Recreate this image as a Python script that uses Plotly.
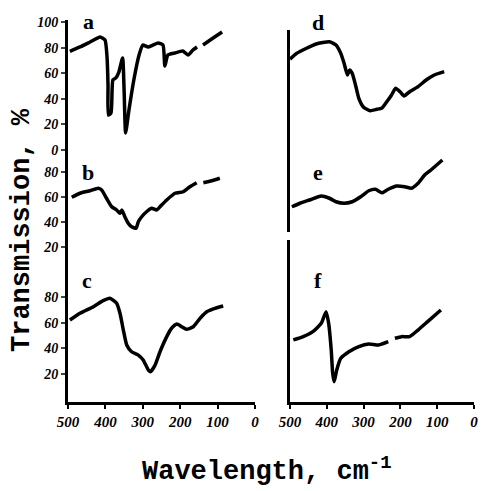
import plotly.graph_objects as go

# ---------------- data (wavenumber cm-1, transmission %) ----------------
a_x = [495, 468, 441, 414, 401, 396, 393, 392, 385, 380, 372, 364, 354, 350, 346, 337, 324, 310,
       300, 286, 273, 259, 246, 241, 233, 214, 193, 179, 166, 155, None, 139, 112, 88]
a_y = [77, 80.5, 84.4, 88.3, 85.9, 74.2, 50.8, 27.3, 28.9, 54.7, 56.3, 60.9, 71.9, 46.9, 13.3, 31.3,
       54.7, 74.2, 82.0, 80.5, 82.0, 83.6, 82.0, 65.6, 74.2, 75.8, 77.3, 74.2, 78.1, 80.5, None,
       82.0, 87.5, 92.2]

b_x = [490, 468, 441, 419, 410, 397, 383, 370, 361, 356, 348, 339, 330, 318, 312, 303, 290, 276,
       263, 254, 236, 214, 192, 174, 156, None, 138, 116, 94]
b_y = [59.8, 63.0, 65.0, 67.0, 65.6, 59.0, 52.2, 49.6, 47.0, 49.6, 44.2, 39.0, 36.2, 35.0, 40.2,
       44.2, 48.2, 51.0, 49.6, 52.2, 57.6, 63.0, 64.2, 68.2, 71.4, None, 71.4, 73.0, 75.0]

c_x = [495, 468, 432, 406, 388, 370, 361, 352, 343, 330, 312, 299, 285, 279, 267, 254, 236, 223,
       209, 196, 183, 165, 147, 129, 107, 85]
c_y = [62.2, 67.5, 72.7, 77.4, 79.3, 75.4, 67.5, 54.3, 42.5, 37.2, 34.6, 30.7, 22.8, 21.5, 26.8,
       37.2, 49.1, 55.7, 59.1, 56.9, 54.9, 56.9, 63.5, 68.7, 71.4, 73.2]

d_x = [500, 482, 455, 429, 393, 375, 362, 353, 344, 338, 331, 322, 313, 300, 282, 264, 251, 237,
       224, 213, 201, 190, 175, 152, 130, 108, 81]
d_y = [71.0, 75.5, 79.5, 82.8, 84.6, 82.0, 75.5, 67.7, 58.6, 62.5, 59.9, 50.8, 40.4, 33.4, 30.7,
       31.8, 32.6, 37.7, 43.0, 48.2, 45.5, 42.2, 45.5, 49.5, 54.7, 58.6, 61.2]

e_x = [495, 473, 447, 415, 393, 375, 353, 331, 308, 286, 268, 250, 233, 210, 188, 170, 152, 134,
       117, 86]
e_y = [52.2, 55.0, 57.6, 60.8, 59.0, 56.2, 55.0, 56.2, 60.2, 65.0, 66.2, 63.4, 66.2, 68.8, 68.2,
       67.0, 71.0, 77.6, 81.6, 89.6]

f_x = [491, 464, 438, 415, 402, 395, 388, 384, 380, 373, 362, 340, 313, 286, 259, 233, None, 215,
       197, 175, 152, 126, 90]
f_y = [46.5, 49.1, 53.0, 59.6, 68.7, 59.6, 38.6, 20.2, 13.6, 22.8, 32.0, 37.2, 41.2, 43.3, 42.5,
       45.1, None, 47.8, 49.1, 49.1, 54.3, 60.9, 70.1]

x_ticks = [500, 400, 300, 200, 100, 0]
a_ticks = [0, 20, 40, 60, 80, 100]
b_ticks = [20, 40, 60, 80]
c_ticks = [20, 40, 60, 80]

# ---------------- layout helpers (pixel geometry) ----------------
W, H = 481, 491


def xdom(l, r):
    return [l / W, r / W]


def ydom(top, bot):
    return [1 - bot / H, 1 - top / H]


def yrng(zero_px, ppu, top, bot):
    return [(zero_px - bot) / ppu, (zero_px - top) / ppu]


tickfont = dict(family="Liberation Serif", size=14, color="black", weight="bold", style="italic")
LW = 3

fig = go.Figure()
line = dict(color="black", width=3.5, shape="spline", smoothing=0.5)
for xs, ys, xa, ya in [(a_x, a_y, "x", "y"), (b_x, b_y, "x", "y2"), (c_x, c_y, "x", "y3"),
                       (d_x, d_y, "x2", "y4"), (e_x, e_y, "x2", "y5"), (f_x, f_y, "x2", "y6")]:
    fig.add_trace(go.Scatter(x=xs, y=ys, mode="lines", line=line, xaxis=xa, yaxis=ya,
                             connectgaps=False, showlegend=False, hoverinfo="skip"))

xcommon = dict(range=[500, 0], tickvals=x_ticks, showline=True, linecolor="black", linewidth=LW,
               ticks="outside", ticklen=4, tickwidth=2, tickcolor="black", showgrid=False,
               zeroline=False, tickfont=dict(tickfont, size=15), automargin=False)
ycommon = dict(showline=True, linecolor="black", linewidth=LW, showgrid=False, zeroline=False,
               automargin=False, tickfont=tickfont)

fig.update_layout(
    width=W, height=H, margin=dict(l=0, r=0, t=0, b=0),
    paper_bgcolor="white", plot_bgcolor="white",
    xaxis=dict(xcommon, domain=xdom(68, 255), anchor="y3"),
    xaxis2=dict(xcommon, domain=xdom(290, 474), anchor="y6"),
    yaxis=dict(ycommon, domain=ydom(20, 155), range=yrng(150, 1.28, 20, 155), anchor="x",
               tickvals=a_ticks, ticks="outside", ticklen=4, tickwidth=2),
    yaxis2=dict(ycommon, domain=ydom(155, 285), range=yrng(272, 1.25, 155, 285), anchor="x",
                tickvals=b_ticks, ticks="outside", ticklen=4, tickwidth=2),
    yaxis3=dict(ycommon, domain=ydom(285, 402), range=yrng(399, 1.27, 285, 402), anchor="x",
                tickvals=c_ticks, ticks="outside", ticklen=4, tickwidth=2),
    yaxis4=dict(ycommon, domain=ydom(30, 135), range=yrng(150, 1.28, 30, 135), anchor="x2",
                showticklabels=False, ticks=""),
    yaxis5=dict(ycommon, domain=ydom(135, 232), range=yrng(272, 1.25, 135, 232), anchor="x2",
                showticklabels=False, ticks=""),
    yaxis6=dict(ycommon, domain=ydom(240, 402), range=yrng(399, 1.27, 240, 402), anchor="x2",
                showticklabels=False, ticks=""),
)

letter_font = dict(family="Liberation Serif", size=22, color="black", weight="bold")
for txt, px, py in [("a", 88, 21), ("b", 88, 173), ("c", 87, 280),
                    ("d", 318, 22), ("e", 318, 172), ("f", 318, 280)]:
    fig.add_annotation(text=txt, x=px / W, y=1 - py / H, xref="paper", yref="paper",
                       showarrow=False, font=letter_font, xanchor="center", yanchor="middle")

title_font = dict(family="Liberation Mono", size=27, color="black", weight="bold")
fig.add_annotation(text="Transmission, %", x=22 / W, y=1 - 230 / H, xref="paper", yref="paper",
                   showarrow=False, textangle=-90, font=title_font,
                   xanchor="center", yanchor="middle")
fig.add_annotation(text="Wavelength, cm<sup>-1</sup>", x=267 / W, y=1 - 489 / H, xref="paper",
                   yref="paper", showarrow=False, font=title_font,
                   xanchor="center", yanchor="bottom")

fig.write_html("out.html", config={"displayModeBar": False},
               post_script="document.body.style.margin='0';document.body.style.overflow='hidden';")
